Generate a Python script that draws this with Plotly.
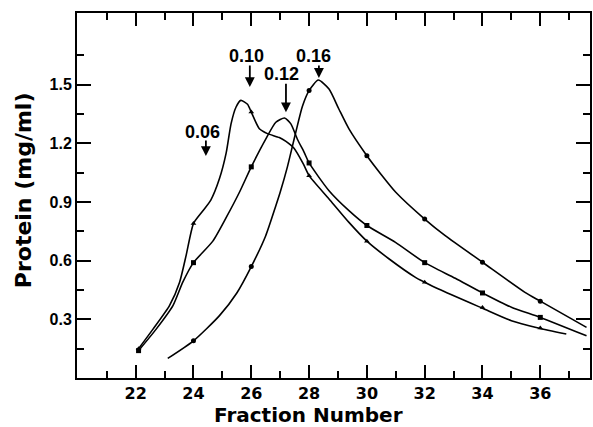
import plotly.graph_objects as go

# ---------------- data ----------------
# Curve A (triangles) – earliest peak
curve_a_x = [22.1, 22.6, 23.17, 23.52, 23.75, 24.0, 24.3, 24.6, 24.9, 25.13, 25.3, 25.47, 25.64,
             25.87, 26.0, 26.28, 26.56, 26.97, 27.2, 27.48, 27.8, 28.0, 28.69, 29.38, 30.0,
             30.76, 31.68, 32.0, 32.48, 33.98, 35.0, 35.93, 36.9]
curve_a_y = [0.15, 0.25, 0.37, 0.49, 0.63, 0.79, 0.85, 0.91, 1.02, 1.15, 1.30, 1.385, 1.42,
             1.40, 1.36, 1.275, 1.25, 1.23, 1.21, 1.175, 1.095, 1.035, 0.916, 0.796, 0.70,
             0.61, 0.515, 0.49, 0.455, 0.358, 0.293, 0.256, 0.225]
marker_a_x = [22.1, 24, 26, 28, 30, 32, 34, 36]
marker_a_y = [0.15, 0.79, 1.36, 1.035, 0.70, 0.49, 0.36, 0.256]

# Curve B (squares) – middle peak
curve_b_x = [22.1, 22.71, 23.29, 23.63, 24.0, 24.67, 25.13, 25.59, 26.0, 26.5, 26.85, 27.15,
             27.37, 27.6, 27.83, 28.0, 28.69, 29.38, 30.0, 30.99, 32.0, 33.06, 34.0, 35.0,
             36.0, 37.6]
curve_b_y = [0.14, 0.25, 0.37, 0.49, 0.59, 0.70, 0.82, 0.95, 1.08, 1.222, 1.308, 1.33,
             1.30, 1.22, 1.154, 1.10, 0.958, 0.856, 0.78, 0.694, 0.59, 0.51, 0.435, 0.362,
             0.31, 0.216]
marker_b_x = [22.1, 24, 26, 28, 30, 32, 34, 36]
marker_b_y = [0.14, 0.59, 1.08, 1.10, 0.78, 0.59, 0.435, 0.31]

# Curve C (circles) – latest peak
curve_c_x = [23.11, 24.0, 24.9, 25.5, 26.0, 26.5, 26.85, 27.0, 27.25, 27.54, 27.77, 28.0, 28.32,
             28.69, 29.03, 29.38, 30.0, 30.5, 31.0, 32.0, 32.71, 34.0, 35.47, 36.0, 37.6]
curve_c_y = [0.10, 0.19, 0.319, 0.435, 0.57, 0.728, 0.881, 0.95, 1.08, 1.257, 1.39, 1.47, 1.524,
             1.478, 1.376, 1.274, 1.137, 1.04, 0.95, 0.813, 0.728, 0.592, 0.438,
             0.393, 0.259]
marker_c_x = [24, 26, 28, 30, 32, 34, 36]
marker_c_y = [0.19, 0.57, 1.47, 1.137, 0.813, 0.592, 0.393]

# Arrow labels (salt molarity)
label_text = ["0.06", "0.10", "0.12", "0.16"]
label_frac = [24.43, 25.95, 27.2, 28.34]
label_tip = [1.135, 1.488, 1.359, 1.535]
arrow_len = [17, 23, 30, 14]
label_dy = [24.5, 31, 38, 22]
label_dx = [-3, -3, -4, -5]

x_ticks = [22, 24, 26, 28, 30, 32, 34, 36]
x_minor = [21, 23, 25, 27, 29, 31, 33, 35, 37]
y_ticks = [0.3, 0.6, 0.9, 1.2, 1.5]
y_tick_text = ["0.3", "0.6", "0.9", "1.2", "1.5"]
y_minor = [0.15, 0.45, 0.75, 1.05, 1.35, 1.65]

x_title = "Fraction Number"
y_title = "Protein (mg/ml)"

# ---------------- figure ----------------
fig = go.Figure()
line_style = dict(color="black", width=1.6, shape="spline", smoothing=0.6)
for cx, cy in [(curve_a_x, curve_a_y), (curve_b_x, curve_b_y), (curve_c_x, curve_c_y)]:
    fig.add_trace(go.Scatter(x=cx, y=cy, mode="lines", line=line_style, hoverinfo="skip"))

for mx, my, sym in [(marker_a_x, marker_a_y, "triangle-up"),
                    (marker_b_x, marker_b_y, "square"),
                    (marker_c_x, marker_c_y, "circle")]:
    fig.add_trace(go.Scatter(x=mx, y=my, mode="markers",
                             marker=dict(symbol=sym, size=5, color="black")))

for t, fx, tip, ln, dy, dx in zip(label_text, label_frac, label_tip, arrow_len, label_dy, label_dx):
    fig.add_annotation(x=fx, y=tip, text="", showarrow=True, ax=0, ay=-ln,
                       arrowhead=2, arrowsize=1.1, arrowwidth=1.8, arrowcolor="black")
    fig.add_annotation(x=fx, y=tip, text=t, showarrow=False, yshift=dy, xshift=dx,
                       font=dict(family="Liberation Sans", size=18, color="black",
                                 weight="bold"))

# axis titles placed as annotations for exact placement
fig.add_annotation(xref="paper", yref="paper", x=(309 - 77) / 515, y=-(414.5 - 378) / 365,
                   text=x_title, showarrow=False, xanchor="center", yanchor="middle",
                   font=dict(family="DejaVu Sans", size=20, color="black", weight="bold"))
fig.add_annotation(xref="paper", yref="paper", x=-(77 - 23) / 515, y=(378 - 190) / 365,
                   text=y_title, showarrow=False, xanchor="center", yanchor="middle",
                   textangle=-90,
                   font=dict(family="DejaVu Sans", size=22, color="black", weight="bold"))

axis_common = dict(showline=True, linewidth=2, linecolor="black", mirror="ticks",
                   ticks="inside", tickwidth=2, tickcolor="black", showgrid=False,
                   zeroline=False)

fig.update_xaxes(range=[19.97, 37.72], tickmode="array", tickvals=x_ticks, ticklen=13,
                 tickfont=dict(family="DejaVu Sans", size=16, color="black", weight="bold"),
                 minor=dict(tickmode="array", tickvals=x_minor, ticks="inside", ticklen=7,
                            tickwidth=2, tickcolor="black"),
                 **axis_common)
fig.update_yaxes(range=[0.0, 1.867], tickmode="array", tickvals=y_ticks, ticktext=y_tick_text,
                 ticklen=14,
                 tickfont=dict(family="Liberation Sans", size=16, color="black", weight="bold"),
                 minor=dict(tickmode="array", tickvals=y_minor, ticks="inside", ticklen=7,
                            tickwidth=2, tickcolor="black"),
                 **axis_common)

fig.update_layout(width=593, height=427, margin=dict(l=77, r=1, t=13, b=49),
                  plot_bgcolor="white", paper_bgcolor="white", showlegend=False)

fig.write_html("out.html")
